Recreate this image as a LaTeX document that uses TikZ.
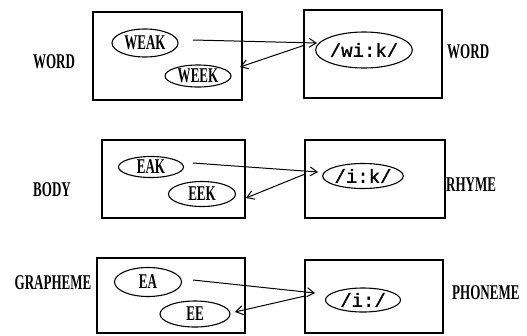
\documentclass[tikz,border=0pt]{standalone}
\usepackage{fontspec}
\newfontfamily\condfont[FakeStretch=0.62]{Liberation Serif Bold}
\newfontfamily\phonfont[FakeBold=1.2]{Liberation Mono}
\usetikzlibrary{shapes.geometric,arrows.meta}
\tikzset{
  box/.style={draw,line width=1.8pt},
  ell/.style={draw,ellipse,line width=1.1pt,inner sep=0pt,font=\fontsize{21}{21}\selectfont\condfont},
  pell/.style={ell,font=\fontsize{19}{19}\selectfont\phonfont},
  lab/.style={font=\fontsize{21}{21}\selectfont\condfont,inner sep=0pt},
  arr/.style={line width=1pt,-{Straight Barb[length=7pt,width=9pt,line width=1pt]}}
}
\begin{document}
\begin{tikzpicture}[x=1pt,y=-1pt]
\useasboundingbox (0,0) rectangle (527,335);
% top row
\draw[box] (93,12) rectangle (242,100);
\draw[box] (304,10) rectangle (442,98);
\node[ell,minimum width=66pt,minimum height=28pt] (weak) at (145,43) {WEAK};
\node[ell,minimum width=66pt,minimum height=22pt] (week) at (198,76) {WEEK};
\node[pell,minimum width=75pt,minimum height=36pt] (wik) at (364,50) {/wi:k/};
\node[lab] (wordL) at (54,62) {WORD};
\node[lab,anchor=west] (wordR) at (447,52) {WORD};
\coordinate (a1s) at (193,40);
\coordinate (a1e) at (317,43);
\coordinate (a2s) at (305,45);
\coordinate (a2e) at (240,67);
\draw[arr] (a1s) -- (a1e);
\draw[arr] (a2s) -- (a2e);
% middle row
\draw[box] (102,140) rectangle (245,218);
\draw[box] (305,140) rectangle (445,218);
\node[ell,minimum width=65pt,minimum height=21pt] (eak) at (151,167) {EAK};
\node[ell,minimum width=67pt,minimum height=25pt] (eek) at (202,194) {EEK};
\node[pell,minimum width=74pt,minimum height=25pt] (ik) at (363,176) {/i:k/};
\node[lab] (body) at (52,190) {BODY};
\node[lab,anchor=west] (rhyme) at (446,185) {RHYME};
\coordinate (b1s) at (193,163);
\coordinate (b1e) at (318,172);
\coordinate (b2s) at (305,174);
\coordinate (b2e) at (246,198);
\draw[arr] (b1s) -- (b1e);
\draw[arr] (b2s) -- (b2e);
% bottom row
\draw[box] (97,258) rectangle (245,333);
\draw[box] (305,260) rectangle (443,333);
\node[ell,minimum width=67pt,minimum height=29pt] (ea) at (148,282) {EA};
\node[ell,minimum width=70pt,minimum height=26pt] (ee) at (195,314) {EE};
\node[pell,minimum width=75pt,minimum height=24pt] (ii) at (363,300) {/i:/};
\node[lab] (graph) at (53,283) {GRAPHEME};
\node[lab,anchor=west] (phon) at (452,293) {PHONEME};
\coordinate (c1s) at (193,280);
\coordinate (c1e) at (315,293);
\coordinate (c2s) at (305,296);
\coordinate (c2e) at (235,312);
\draw[arr] (c1s) -- (c1e);
\draw[arr] (c2s) -- (c2e);
\end{tikzpicture}
\end{document}
